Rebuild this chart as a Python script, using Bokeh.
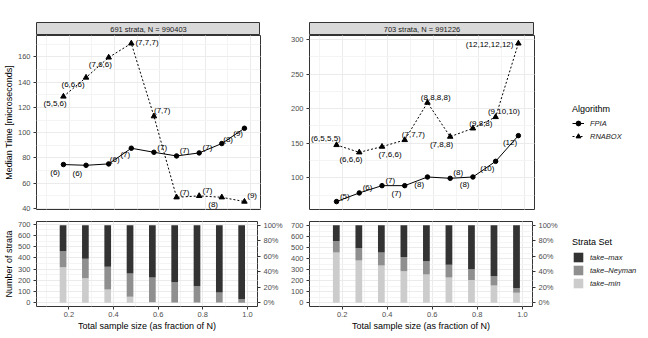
from bokeh.plotting import figure
from bokeh.layouts import column, row
from bokeh.models import (Range1d, LinearAxis, SingleIntervalTicker, NumeralTickFormatter,
                          Legend, LegendItem, Label, ColumnDataSource, Spacer)
from bokeh.core.properties import value
from bokeh.embed import file_html
from bokeh.resources import INLINE

FONT = "Liberation Sans"
NAN = float("nan")

# ---------------- data ----------------
frac_n = [0.174, 0.274, 0.374, 0.474, 0.574, 0.674, 0.774, 0.874, 0.974]
x_limits = [0.1, 1.0]

panel_titles = ["691 strata, N = 990403", "703 strata, N = 991226"]
n_strata = [691, 703]

fpia_a = [74.8, 74.2, 75.3, 87.7, 84.5, 81.6, 84.0, 91.4, 103.5]
rnabox_a = [128.6, 143.6, 159.5, 170.6, 113.0, 48.9, 50.0, 48.9, 45.5]
fpia_a_lab = ["(6)", "(6)", "(6)", "(7)", "(7)", "(7)", "(7)", "(8)", "(9)"]
rnabox_a_lab = ["(5,5,6)", "(6,6,6)", "(7,6,6)", "(7,7,7)", "(7,7)", "(7)", "(7)", "(8)", "(9)"]

fpia_b = [65.9, 78.4, 88.9, 88.9, 101.4, 99.5, 101.4, 124.0, 161.1]
rnabox_b = [147.6, 137.0, 145.2, 154.8, 208.7, 159.6, 171.6, 188.0, 294.2]
fpia_b_lab = ["(5)", "(6)", "(7)", "(7)", "(8)", "(8)", "(8)", "(10)", "(12)"]
rnabox_b_lab = ["(6,5,5,5)", "(6,6,6)", "(7,6,6)", "(7,7,7)", "(8,8,8,8)", "(7,8,8)",
                "(9,8,8)", "(9,10,10)", "(12,12,12,12)"]

take_min_a = [316, 218, 118, 53, 6, 2, 1, 1, 0]
take_neyman_a = [144, 174, 204, 207, 218, 181, 146, 90, 32]
take_max_a = [231, 299, 369, 431, 467, 508, 544, 600, 659]

take_min_b = [457, 383, 338, 285, 255, 228, 205, 157, 89]
take_neyman_b = [104, 113, 119, 130, 122, 116, 98, 83, 45]
take_max_b = [142, 207, 246, 288, 326, 359, 400, 463, 569]

set_names = ["take\u2013max", "take\u2013Neyman", "take\u2013min"]
algo_names = ["FPIA", "RNABOX"]

# ---------------- styles (label offsets in screen px, y down) ----------------
fpia_a_off = [(-8.3, 8), (-8.7, 8), (6, -4.3), (-6, 6.3), (8.3, -5), (8, -5.3), (8.3, -5.7), (6.3, -4), (-6.3, 5.7)]
rnabox_a_off = [(-8.3, 7), (-13, 7), (-8.3, 7), (15.7, -1), (8.3, -5.7), (8, -5), (8.3, -5), (-8.7, 7), (7.7, -6)]
fpia_b_off = [(8.3, -5.3), (8.3, -5.3), (8.3, -5.3), (-8.3, 8), (-8.3, 7.7), (8, -5.7), (-8.3, 7.7), (-8.3, 7.3), (-8.3, 7.3)]
rnabox_b_off = [(-10.7, -6.3), (-8.3, 7.3), (8, 7.7), (8.7, -5.3), (8.3, -5), (-8.7, 7.7), (8, -5.3), (8.3, -5.7), (-28.7, 1)]

FILL = {"take_max": "#333333", "take_neyman": "#8f8f8f", "take_min": "#cccccc"}
CIRCLE_SIZE = 4.5
TRI_SIZE = 5.5


def expand(lo, hi, mult=0.05):
    span = hi - lo
    return lo - mult * span, hi + mult * span


def style_axes(p):
    for ax in p.axis:
        ax.axis_line_color = None
        ax.major_tick_line_color = "#333333"
        ax.major_tick_out = 3
        ax.major_tick_in = 0
        ax.minor_tick_line_color = None
        ax.major_label_text_font = FONT
        ax.major_label_text_font_size = "7.5px"
        ax.major_label_text_color = "#4d4d4d"
        ax.major_label_standoff = 2
        ax.axis_label_text_font = FONT
        ax.axis_label_text_font_size = "9px"
        ax.axis_label_text_font_style = "normal"
        ax.axis_label_text_color = "black"
        ax.axis_label_standoff = 1
    for g in p.grid:
        g.grid_line_color = "#ebebeb"
        g.grid_line_width = 1
        g.minor_grid_line_color = "#f4f4f4"
        g.minor_grid_line_width = 1


def make_fig(w, h, ylo, yhi, yint, left, right, top, bottom):
    xlo, xhi = expand(*x_limits)
    p = figure(width=w, height=h, x_range=Range1d(xlo, xhi), y_range=Range1d(ylo, yhi),
               toolbar_location=None, output_backend="svg",
               min_border_left=left, min_border_right=right,
               min_border_top=top, min_border_bottom=bottom)
    p.outline_line_color = "#333333"
    p.outline_line_width = 1
    p.background_fill_color = "white"
    p.border_fill_color = "white"
    p.xaxis.ticker = SingleIntervalTicker(interval=0.2, num_minor_ticks=2)
    p.xaxis.formatter = NumeralTickFormatter(format="0.0")
    p.yaxis.ticker = SingleIntervalTicker(interval=yint, num_minor_ticks=2)
    return p


def time_panel(w, fpia, rnabox, flab, rlab, foff, roff, yint, left, right):
    lo, hi = expand(min(fpia + rnabox), max(fpia + rnabox))
    p = make_fig(w, 180, lo, hi, yint, left, right, 0, 6)
    src = ColumnDataSource(dict(x=frac_n, fpia=fpia, rnabox=rnabox, flab=flab, rlab=rlab,
                                fdx=[o[0] for o in foff], fdy=[o[1] for o in foff],
                                rdx=[o[0] for o in roff], rdy=[o[1] for o in roff]))
    p.line("x", "fpia", source=src, line_color="black", line_width=1)
    p.scatter("x", "fpia", source=src, marker="circle", size=CIRCLE_SIZE,
              fill_color="black", line_color="black")
    p.line("x", "rnabox", source=src, line_color="black", line_width=1, line_dash="2 2")
    p.scatter("x", "rnabox", source=src, marker="triangle", size=TRI_SIZE,
              fill_color="black", line_color="black")
    for col, lab, dx, dy in (("fpia", "flab", "fdx", "fdy"), ("rnabox", "rlab", "rdx", "rdy")):
        p.text(x="x", y=col, text=lab, x_offset=dx, y_offset=dy, source=src,
               text_font=value(FONT), text_font_size="8px", text_color="#000000",
               text_align="center", text_baseline="middle")
    p.xaxis.visible = False
    style_axes(p)
    return p


def count_panel(w, mins, neys, maxs, total, left, right):
    lo, hi = expand(0, total)
    p = make_fig(w, 118, lo, hi, 100, left, right, 6, 26)
    p.extra_y_ranges = {"pct": Range1d(lo / total, hi / total)}
    ax = LinearAxis(y_range_name="pct", ticker=SingleIntervalTicker(interval=0.2),
                    formatter=NumeralTickFormatter(format="0%"))
    p.add_layout(ax, "right")
    src = ColumnDataSource(dict(x=frac_n, take_min=mins, take_neyman=neys, take_max=maxs))
    keys = ["take_min", "take_neyman", "take_max"]
    p.vbar_stack(keys, x="x", width=0.03, source=src,
                 fill_color=[FILL[k] for k in keys], line_color=None)
    p.xaxis.axis_label = "Total sample size (as fraction of N)"
    style_axes(p)
    p.xaxis.major_label_standoff = 1
    p.xaxis.axis_label_standoff = 1
    return p


def blank(w, h, bg="white"):
    s = figure(width=w, height=h, x_range=Range1d(0, 1), y_range=Range1d(0, 1),
               toolbar_location=None, output_backend="svg",
               x_axis_location=None, y_axis_location=None, min_border=0)
    s.grid.visible = False
    s.background_fill_color = bg
    s.border_fill_color = bg
    s.outline_line_color = None
    return s


def strip(w, text):
    s = blank(w, 13, "#d9d9d9")
    s.outline_line_color = "#333333"
    s.add_layout(Label(x=0.5, y=0.5, text=text, text_align="center", text_baseline="middle",
                       text_font=FONT, text_font_size="7.5px", text_color="#1a1a1a"))
    return s


def style_legend(leg, standoff):
    leg.title_text_font = FONT
    leg.title_text_font_size = "9px"
    leg.title_text_font_style = "normal"
    leg.title_text_color = "black"
    leg.label_text_font = FONT
    leg.label_text_font_size = "7.5px"
    leg.label_text_font_style = "italic"
    leg.label_text_color = "#1a1a1a"
    leg.glyph_width = 12
    leg.glyph_height = 12
    leg.label_height = 12
    leg.spacing = 1
    leg.padding = 0
    leg.margin = 0
    leg.label_standoff = 6
    leg.title_standoff = standoff
    leg.border_line_color = None
    leg.background_fill_alpha = 0


# ---------------- panels ----------------
tl = time_panel(285, fpia_a, rnabox_a, fpia_a_lab, rnabox_a_lab, fpia_a_off, rnabox_a_off, 20, 36, 25)
tl.yaxis.axis_label = "Median Time [microseconds]"
tr = time_panel(275, fpia_b, rnabox_b, fpia_b_lab, rnabox_b_lab, fpia_b_off, rnabox_b_off, 50, 24, 26)

bl = count_panel(285, take_min_a, take_neyman_a, take_max_a, n_strata[0], 36, 25)
bl.yaxis[0].axis_label = "Number of strata"
br = count_panel(275, take_min_b, take_neyman_b, take_max_b, n_strata[1], 24, 26)

# legend keys: renderers carrying the same styles, with no visible point
lg1 = blank(80, 180)
k1 = [lg1.line(x=[NAN], y=[NAN], line_color="black", line_width=1),
      lg1.scatter(x=[NAN], y=[NAN], marker="circle", size=CIRCLE_SIZE,
                  fill_color="black", line_color="black")]
k2 = [lg1.line(x=[NAN], y=[NAN], line_color="black", line_width=1, line_dash="2 2"),
      lg1.scatter(x=[NAN], y=[NAN], marker="triangle", size=TRI_SIZE,
                  fill_color="black", line_color="black")]
leg1 = Legend(items=[LegendItem(label=algo_names[0], renderers=k1),
                     LegendItem(label=algo_names[1], renderers=k2)],
              title="Algorithm", location=(12, 67))
style_legend(leg1, 3)
lg1.add_layout(leg1)

lg2 = blank(80, 118)
bars = {k: lg2.vbar(x=[NAN], top=[NAN], width=0.03, fill_color=FILL[k], line_color=None)
        for k in ["take_max", "take_neyman", "take_min"]}
leg2 = Legend(items=[LegendItem(label=set_names[0], renderers=[bars["take_max"]]),
                     LegendItem(label=set_names[1], renderers=[bars["take_neyman"]]),
                     LegendItem(label=set_names[2], renderers=[bars["take_min"]])],
              title="Strata Set", location=(12, 17))
style_legend(leg2, 4)
lg2.add_layout(leg2)

strips = row(Spacer(width=36, height=13), strip(224, panel_titles[0]),
             Spacer(width=49, height=13), strip(225, panel_titles[1]),
             Spacer(width=106, height=13))

layout = column(Spacer(width=640, height=22), strips, row(tl, tr, lg1), row(bl, br, lg2))

open("out.html", "w").write(file_html(layout, INLINE))
